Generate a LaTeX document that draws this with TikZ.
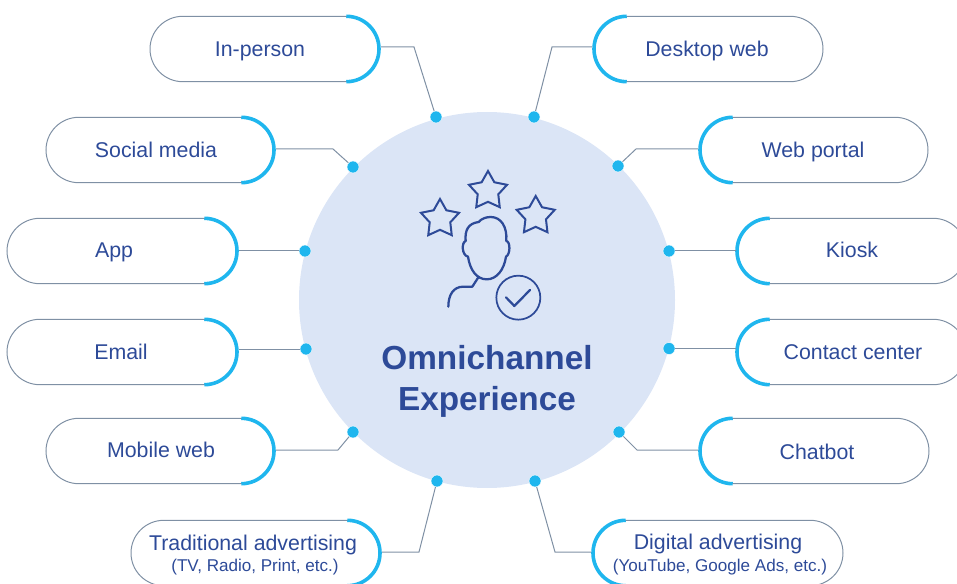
\documentclass[tikz,border=0pt]{standalone}
\usepackage{fontspec}
\setmainfont{Liberation Sans}
\usetikzlibrary{calc, positioning, shapes.geometric, shapes.misc}
\definecolor{ink}{HTML}{2D4A98}
\definecolor{disc}{HTML}{DBE5F6}
\definecolor{cyanline}{HTML}{1FB6EE}
\definecolor{greyline}{HTML}{7F90A4}

\begin{document}
\begin{tikzpicture}[x=.75pt, y=.75pt]
  \tikzset{
   pill/.style={draw=greyline, line width=.75pt, rounded rectangle, minimum height=49pt, inner sep=0pt, outer sep=0pt},
   arcline/.style={draw=cyanline, line width=2.7pt},
   link/.style={draw=greyline, line width=.75pt},
   spot/.style={circle, fill=cyanline, draw=white, line width=.3pt, minimum size=9pt, inner sep=0pt},
   word/.style={text=ink, font=\fontsize{16}{18}\selectfont, inner sep=0pt, text height=11.5pt, text depth=0pt},
   small/.style={text=ink, font=\fontsize{12.8}{15}\selectfont, inner sep=0pt, text height=9.2pt, text depth=0pt},
   title/.style={text=ink, font=\fontsize{25}{28}\selectfont\bfseries, inner sep=0pt, text height=18pt, text depth=0pt},
   icon/.style={draw=ink, line width=1.7pt, line join=round, line cap=round},
   fivestar/.style={star, star points=5, star point ratio=1.85, draw=ink, line width=1.5pt, minimum size=30pt, inner sep=0pt},
  }
  \useasboundingbox (0, 0) rectangle (957, 583);

  \node (hub) at (487, 283) [circle, fill=disc, minimum size=282pt, inner sep=0pt] {};
  \node (title1) at (487, 226) [title] {Omnichannel};
  \node (title2) at (487, 185) [title] {Experience};

  % left pills
  \foreach \id/\x/\y/\w/\tx/\ty/\t in {
   inperson/264.5/534/229/260/534/In-person,
   social/160/433/228/156/433/Social media,
   app/122/332/230/114/333/App,
   email/122/231/230/121/231/Email,
   mobweb/160/132/228/161/133/Mobile web
  } {
   \node (\id) at (\x, \y) [pill, minimum width=\w*.75pt] {};
   \node (\id-t) at (\tx, \ty) [word] {\t};
   \draw [arcline] ($(\id.east)+(-32.7, 32.7)$) arc (90:-90:32.7);
  }
  % right pills
  \foreach \id/\x/\y/\w/\tx/\ty/\t in {
   deskweb/708.5/534/229/707/534/Desktop web,
   portal/814/433/228/813/433/Web portal,
   kiosk/851.5/332/229/852/333/Kiosk,
   contact/851.5/231/229/853/231/Contact center,
   chatbot/814.5/132/229/817/131/Chatbot
  } {
   \node (\id) at (\x, \y) [pill, minimum width=\w*.75pt] {};
   \node (\id-t) at (\tx, \ty) [word] {\t};
   \draw [arcline] ($(\id.west)+(32.7, 32.7)$) arc (90:270:32.7);
  }
  % the two with a second line
  \node (trad) at (255.5, 30) [pill, minimum width=249*.75pt] {};
  \node (trad-t) at (253, 40) [word] {Traditional advertising};
  \node (trad-s) at (255, 18) [small] {(TV, Radio, Print, etc.)};
  \draw [arcline] ($(trad.east)+(-32.7, 32.7)$) arc (90:-90:32.7);
  \node (digi) at (718, 30) [pill, minimum width=250*.75pt] {};
  \node (digi-t) at (718, 41) [word] {Digital advertising};
  \node (digi-s) at (720, 18) [small] {(YouTube, Google Ads, etc.)};
  \draw [arcline] ($(digi.west)+(32.7, 32.7)$) arc (90:270:32.7);

  % spots on the rim
  \foreach \id/\x/\y in {
   s1/436/466, s2/353/416, s3/305/332, s4/306/234, s5/353/151, s6/437/102,
   s7/534/466, s8/618/417, s9/669/332, s10/669/234.5, s11/619/151, s12/535/102
  } {
   \node (\id) at (\x, \y) [spot] {};
  }

  % connectors
  \foreach \id/\s/\dy/\run in {
   inperson/s1/2/33, social/s2/1/57, mobweb/s5/1/62, trad/s6/1/37
  } {
   \draw [link] ($(\id.east)+(2, \dy)$) -- ++(\run, 0) -- (\s);
  }
  \foreach \id/\s/\dy/\run in {
   deskweb/s7/2/40, portal/s8/1/62, chatbot/s11/1/61, digi/s12/1/36
  } {
   \draw [link] ($(\id.west)+(-2, \dy)$) -- ++(-\run, 0) -- (\s);
  }
  \draw [link] (app) ++(117, 0) -- (s3);
  \draw [link] (email) ++(117, 3) -- (s4);
  \draw [link] (kiosk) ++(-115.5, 0) -- (s9);
  \draw [link] (contact) ++(-115.5, 3.5) -- (s10);

  % stars and person
  \node (star1) at (440, 364) [fivestar] {};
  \node (star2) at (488, 392) [fivestar] {};
  \node (star3) at (535.7, 367) [fivestar] {};
  \begin{scope}[shift={(400, 423)}, x=.25pt, y=-.25pt]
   \draw [icon] (197, 243) .. controls (194, 210) and (205, 190) .. (236, 186)
    .. controls (245, 175) and (260, 171) .. (272, 171)
    .. controls (303, 171) and (322, 200) .. (319, 243)
    .. controls (332, 245) and (331, 284) .. (318, 290)
    .. controls (312, 330) and (290, 358) .. (260, 358)
    .. controls (230, 358) and (210, 330) .. (204, 290)
    .. controls (185, 286) and (184, 247) .. (197, 243) -- cycle;
   \draw [icon] (235, 352) -- (217, 380) -- (190, 380)
    .. controls (160, 380) and (145, 405) .. (145, 440);
   \node (badge) at (355, 413) [circle, draw=ink, line width=1.3pt, minimum size=33pt, inner sep=0pt] {};
   \draw [icon] (318, 412) -- (343, 438) -- (390, 390);
  \end{scope}
\end{tikzpicture}
\end{document}
